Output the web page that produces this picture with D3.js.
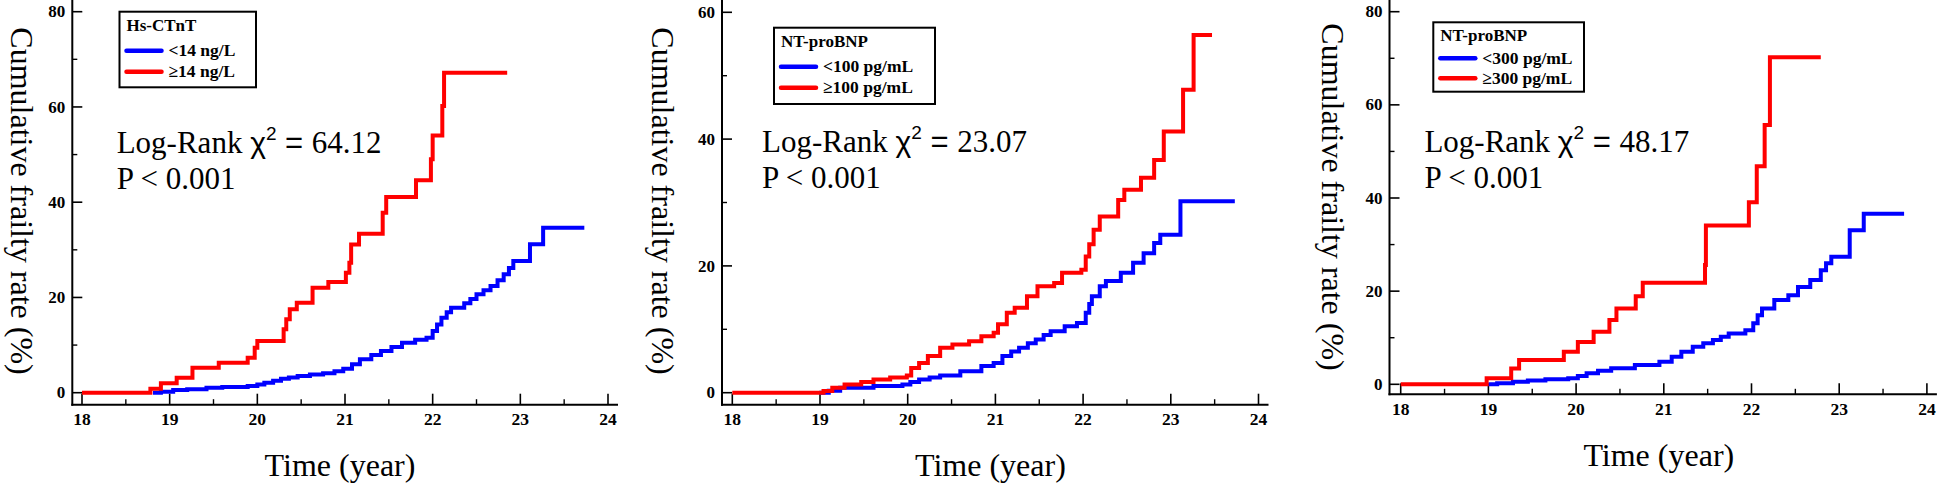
<!DOCTYPE html>
<html>
<head>
<meta charset="utf-8">
<script src="https://cdn.jsdelivr.net/npm/d3@7"></script>
<style>
  html, body { margin: 0; padding: 0; background: #fff; }
  svg { display: block; }
</style>
</head>
<body>
<svg id="chart" width="1944" height="485"></svg>
<script>
// ---------------- DATA ----------------
const xTickValues = [18, 19, 20, 21, 22, 23, 24];
const yTicks80 = [0, 20, 40, 60, 80];
const yTicks60 = [0, 20, 40, 60];

const legendTitles = ["Hs-CTnT", "NT-proBNP", "NT-proBNP"];
const legendLow = ["<14 ng/L", "<100 pg/mL", "<300 pg/mL"];
const legendHigh = ["\u226514 ng/L", "\u2265100 pg/mL", "\u2265300 pg/mL"];
const chiValues = ["64.12", "23.07", "48.17"];
const pText = "P < 0.001";
const xTitle = "Time (year)";
const yTitle = "Cumulative frailty rate (%)";

// Panel 1 : Hs-CTnT
const p1Low = [[18.81,0],[18.9,0.2],[19.04,0.56],[19.2,0.7],[19.42,1.05],[19.6,1.2],[19.89,1.4],[20.0,1.7],[20.08,2.1],[20.18,2.5],[20.27,2.94],[20.36,3.2],[20.46,3.5],[20.6,3.8],[20.75,4.06],[20.88,4.5],[20.98,5.04],[21.08,6.0],[21.17,7.0],[21.3,7.9],[21.41,8.75],[21.53,9.6],[21.65,10.5],[21.8,11.1],[21.93,11.55],[22.0,12.95],[22.05,14.3],[22.1,15.75],[22.16,16.9],[22.21,17.85],[22.36,18.76],[22.43,19.7],[22.5,20.65],[22.58,21.5],[22.66,22.4],[22.74,23.6],[22.81,24.85],[22.87,26.2],[22.92,27.65],[23.11,31.15],[23.26,34.65],[23.73,34.65]];
const p1High = [[18,0],[18.78,0.84],[18.9,1.96],[19.08,3.15],[19.26,5.25],[19.56,6.3],[19.89,7.35],[19.97,9.45],[20.0,10.85],[20.3,13.3],[20.33,15.4],[20.37,17.5],[20.45,18.9],[20.63,22.05],[20.81,23.24],[21.01,25.2],[21.05,27.3],[21.07,31.1],[21.16,33.4],[21.43,37.8],[21.47,41.1],[21.81,44.6],[21.98,49.0],[22.0,54.0],[22.11,60.2],[22.13,67.2],[22.85,67.2]];

// Panel 2 : NT-proBNP 100
const p2Low = [[18.99,0],[19.1,0.3],[19.23,0.8],[19.61,1.05],[19.94,1.3],[20.03,1.7],[20.13,2.1],[20.25,2.4],[20.37,2.7],[20.6,3.4],[20.84,4.2],[20.98,4.7],[21.08,5.8],[21.18,6.5],[21.27,7.1],[21.37,7.8],[21.46,8.4],[21.55,9.1],[21.63,9.7],[21.79,10.5],[21.93,11.0],[22.03,12.6],[22.07,14.0],[22.1,15.2],[22.19,16.8],[22.26,17.6],[22.43,18.9],[22.57,20.5],[22.69,22.0],[22.81,23.6],[22.88,24.9],[23.11,30.2],[23.73,30.2]];
const p2High = [[18,0],[18.95,0],[19.04,0.26],[19.14,0.79],[19.28,1.3],[19.47,1.7],[19.61,2.1],[19.8,2.4],[19.99,2.7],[20.04,3.9],[20.13,4.7],[20.23,5.8],[20.37,7.1],[20.51,7.6],[20.7,8.1],[20.84,8.9],[20.98,9.45],[21.03,10.8],[21.13,12.6],[21.22,13.4],[21.36,15.2],[21.48,16.8],[21.67,17.3],[21.76,18.9],[21.98,19.4],[22.03,21.5],[22.07,23.4],[22.12,25.7],[22.19,27.8],[22.4,30.4],[22.47,32.0],[22.66,33.9],[22.81,36.7],[22.92,41.2],[23.14,47.8],[23.26,56.4],[23.47,56.4]];

// Panel 3 : NT-proBNP 300
const p3Low = [[19.0,0],[19.1,0.2],[19.28,0.57],[19.45,0.8],[19.65,1.07],[19.91,1.29],[20.02,1.8],[20.12,2.36],[20.25,2.9],[20.4,3.43],[20.67,4.14],[20.95,4.86],[21.09,5.93],[21.2,7.0],[21.33,8.07],[21.45,8.8],[21.56,9.5],[21.65,10.2],[21.74,10.9],[21.93,11.6],[22.02,13.1],[22.07,14.8],[22.12,16.3],[22.26,18.1],[22.42,19.1],[22.53,20.9],[22.67,22.4],[22.79,24.5],[22.85,26.0],[22.91,27.4],[23.12,33.1],[23.28,36.6],[23.74,36.6]];
const p3High = [[18,0],[18.98,1.29],[19.26,3.4],[19.35,5.2],[19.86,7.0],[20.02,9.1],[20.2,11.3],[20.38,13.8],[20.46,16.3],[20.68,18.9],[20.76,21.8],[21.47,25.6],[21.48,34.1],[21.97,39.1],[22.06,46.8],[22.15,55.7],[22.21,70.2],[22.79,70.2]];

// ---------------- LAYOUT ----------------
const panels = [
  { axisX: 72.3, x0: 82, x1: 608, y0: 392.7, yTop: 11.7, yMax: 80, axisY: 404.7, yTicks: yTicks80,
    legend: {x: 119.5, y: 11.7, w: 136.5, h: 75.6}, annX: 116.7, annY: 152.5, yTitleX: 10.5, yTitleY: 201,
    low: p1Low, high: p1High },
  { axisX: 722, x0: 732.3, x1: 1258.5, y0: 392.7, yTop: 12.3, yMax: 60, axisY: 404.7, yTicks: yTicks60,
    legend: {x: 774, y: 27.7, w: 161, h: 76.3}, annX: 762, annY: 151.7, yTitleX: 652, yTitleY: 201,
    low: p2Low, high: p2High },
  { axisX: 1389.5, x0: 1400.7, x1: 1926.9, y0: 384.3, yTop: 11.7, yMax: 80, axisY: 394.3, yTicks: yTicks80,
    legend: {x: 1433.3, y: 22.3, w: 150.7, h: 69.4}, annX: 1424.4, annY: 151.7, yTitleX: 1322, yTitleY: 197,
    low: p3Low, high: p3High }
];

const svg = d3.select("#chart");
svg.append("rect").attr("width", 1944).attr("height", 485).attr("fill", "#fff");

const SERIF = "'Liberation Serif', 'Times New Roman', serif";
const SANS = "'Liberation Sans', Arial, sans-serif";
const BLUE = "#0000ff", RED = "#ff0000";

panels.forEach((p, i) => {
  const g = svg.append("g");
  const x = d3.scaleLinear().domain([18, 24]).range([p.x0, p.x1]);
  const y = d3.scaleLinear().domain([0, p.yMax]).range([p.y0, p.yTop]);

  // axis lines
  g.append("line").attr("x1", p.axisX).attr("x2", p.axisX).attr("y1", 0).attr("y2", p.axisY + 1)
    .attr("stroke", "#000").attr("stroke-width", 2);
  g.append("line").attr("x1", p.axisX - 1).attr("x2", p.x1 + 10).attr("y1", p.axisY).attr("y2", p.axisY)
    .attr("stroke", "#000").attr("stroke-width", 2);

  // x ticks (inward)
  const xMinor = d3.range(18.5, 24, 1);
  g.selectAll(".xt").data(xTickValues).enter().append("line")
    .attr("x1", d => x(d)).attr("x2", d => x(d)).attr("y1", p.axisY).attr("y2", p.axisY - 11)
    .attr("stroke", "#000").attr("stroke-width", 1.6);
  g.selectAll(".xm").data(xMinor).enter().append("line")
    .attr("x1", d => x(d)).attr("x2", d => x(d)).attr("y1", p.axisY).attr("y2", p.axisY - 5.5)
    .attr("stroke", "#000").attr("stroke-width", 1.4);
  g.selectAll(".xl").data(xTickValues).enter().append("text")
    .attr("x", d => x(d)).attr("y", p.axisY + 20.5)
    .attr("text-anchor", "middle").attr("font-family", SERIF).attr("font-weight", "bold")
    .attr("font-size", 17.5).text(d => d);

  // y ticks (inward)
  const yMinor = d3.range(10, p.yMax, 20);
  g.selectAll(".yt").data(p.yTicks).enter().append("line")
    .attr("x1", p.axisX).attr("x2", p.axisX + 10).attr("y1", d => y(d)).attr("y2", d => y(d))
    .attr("stroke", "#000").attr("stroke-width", 1.6);
  g.selectAll(".ym").data(yMinor).enter().append("line")
    .attr("x1", p.axisX).attr("x2", p.axisX + 5).attr("y1", d => y(d)).attr("y2", d => y(d))
    .attr("stroke", "#000").attr("stroke-width", 1.4);
  g.selectAll(".yl").data(p.yTicks).enter().append("text")
    .attr("x", p.axisX - 7).attr("y", d => y(d)).attr("dy", "0.33em")
    .attr("text-anchor", "end").attr("font-family", SERIF).attr("font-weight", "bold")
    .attr("font-size", 17).text(d => d);

  // curves
  const line = d3.line().x(d => x(d[0])).y(d => y(d[1])).curve(d3.curveStepAfter);
  g.append("path").datum(p.low).attr("d", line).attr("fill", "none")
    .attr("stroke", BLUE).attr("stroke-width", 4).attr("stroke-linejoin", "miter");
  g.append("path").datum(p.high).attr("d", line).attr("fill", "none")
    .attr("stroke", RED).attr("stroke-width", 4).attr("stroke-linejoin", "miter");

  // legend
  const L = p.legend;
  g.append("rect").attr("x", L.x).attr("y", L.y).attr("width", L.w).attr("height", L.h)
    .attr("fill", "#fff").attr("stroke", "#000").attr("stroke-width", 2);
  const lx = L.x + 7;
  const rowTitle = L.y + (i === 2 ? 18.5 : 19);
  const row1 = L.y + (i === 2 ? 36 : 39);
  const row2 = L.y + (i === 2 ? 56 : 60);
  g.append("text").attr("x", lx).attr("y", rowTitle).attr("font-family", SERIF).attr("font-weight", "bold")
    .attr("font-size", 17).text(legendTitles[i]);
  [[row1, BLUE, legendLow[i]], [row2, RED, legendHigh[i]]].forEach(([ry, c, t]) => {
    g.append("line").attr("x1", lx).attr("x2", lx + 35).attr("y1", ry).attr("y2", ry)
      .attr("stroke", c).attr("stroke-width", 4.5).attr("stroke-linecap", "round");
    g.append("text").attr("x", lx + 42).attr("y", ry + 5.5).attr("font-family", SERIF)
      .attr("font-weight", "bold").attr("font-size", 17.5).text(t);
  });

  // annotation
  const a = g.append("text").attr("x", p.annX).attr("y", p.annY)
    .attr("font-family", SERIF).attr("font-size", 31).attr("fill", "#000");
  a.append("tspan").text("Log-Rank ");
  a.append("tspan").attr("font-family", SANS).attr("font-size", 30).text("\u03c7");
  a.append("tspan").attr("font-family", SANS).attr("font-size", 19).attr("dy", -13).text("2");
  a.append("tspan").attr("font-family", SANS).attr("dy", 13).text(" = ");
  a.append("tspan").text(chiValues[i]);
  g.append("text").attr("x", p.annX).attr("y", p.annY + 36.5)
    .attr("font-family", SERIF).attr("font-size", 31).text(pText);

  // axis titles
  g.append("text").attr("x", (p.x0 + p.x1) / 2 - 5).attr("y", p.axisY + 71.5)
    .attr("text-anchor", "middle").attr("font-family", SERIF).attr("font-size", 32).text(xTitle);
  g.append("text").attr("transform", `translate(${p.yTitleX},${p.yTitleY}) rotate(90)`)
    .attr("text-anchor", "middle").attr("font-family", SERIF).attr("font-size", 32).text(yTitle);
});
</script>
</body>
</html>
